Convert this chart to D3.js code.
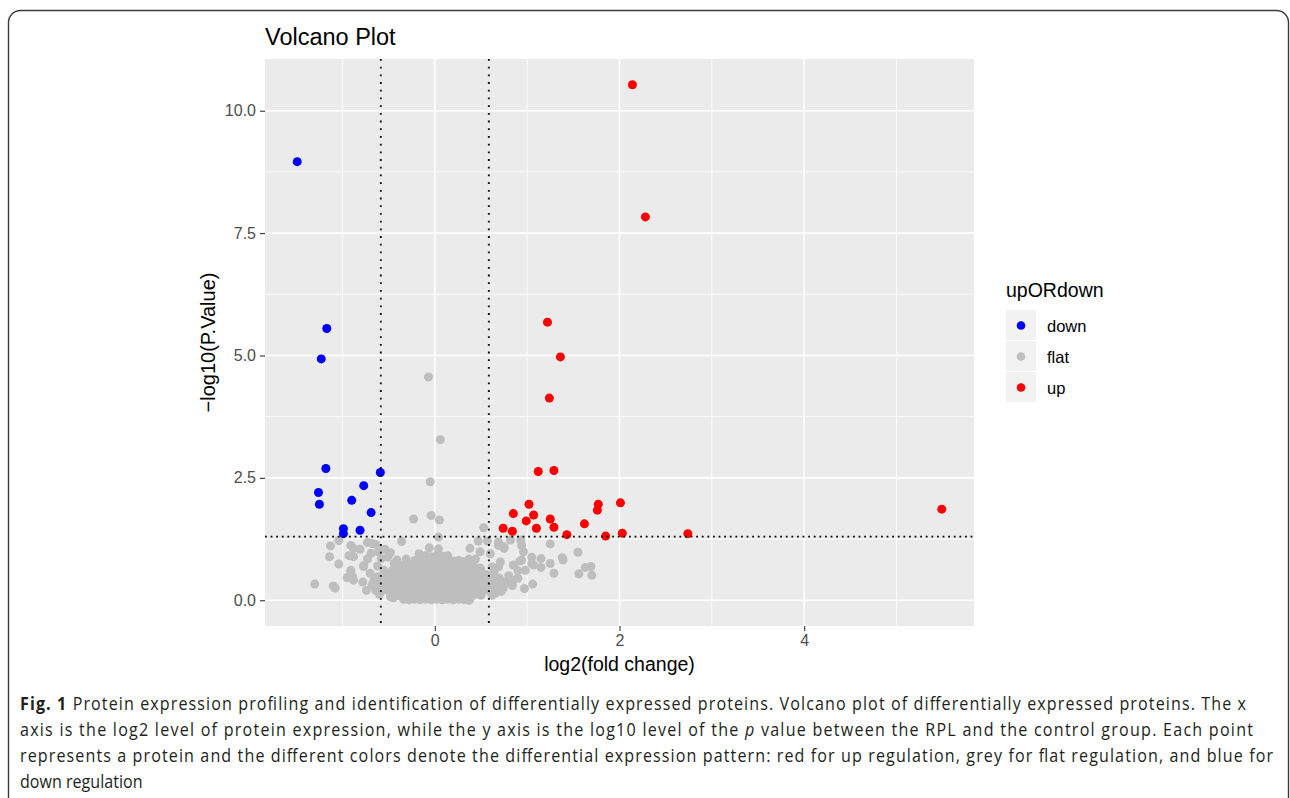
<!DOCTYPE html>
<html>
<head>
<meta charset="utf-8">
<script src="https://cdn.jsdelivr.net/npm/d3@7"></script>
<style>
  body { margin: 0; background: #fff; }
  svg { display: block; }
</style>
</head>
<body>
<div id="graph"></div>
<script>
// ---- data (log2 fold change, -log10 p) ----
const down = [
  [-1.49, 8.96], [-1.17, 5.55], [-1.23, 4.93], [-1.18, 2.69], [-1.26, 2.20],
  [-1.25, 1.96], [-0.90, 2.04], [-0.77, 2.34], [-0.59, 2.61], [-0.69, 1.79],
  [-0.99, 1.46], [-0.99, 1.36], [-0.81, 1.43]
];

const up = [
  [2.14, 10.53], [2.28, 7.83], [1.22, 5.68], [1.36, 4.97], [1.24, 4.13],
  [1.12, 2.63], [1.29, 2.65], [1.02, 1.96], [0.85, 1.77], [1.07, 1.74],
  [0.99, 1.62], [1.25, 1.66], [1.10, 1.47], [1.29, 1.49], [0.74, 1.47],
  [0.84, 1.41], [1.43, 1.34], [1.62, 1.56], [1.77, 1.96], [1.76, 1.84],
  [2.01, 1.99], [1.85, 1.31], [2.03, 1.37], [2.74, 1.36], [5.49, 1.86]
];

// scattered grey points
const flatOuter = [
  [-0.07, 4.56], [0.06, 3.28], [-0.05, 2.42], [-0.04, 1.73], [0.05, 1.64],
  [-0.23, 1.66], [0.04, 1.29], [0.53, 1.48], [-0.36, 1.20], [-1.04, 1.22],
  [-1.13, 1.11], [-1.14, 0.89], [-1.04, 0.74], [-1.30, 0.33], [-1.10, 0.29],
  [-1.08, 0.25], [-0.95, 0.46], [-0.89, 0.48], [-0.74, 0.20], [-0.45, 0.05],
  [0.37, 0.00], [-0.06, 1.07], [0.04, 1.05], [0.38, 1.06], [0.47, 1.21],
  [0.57, 1.21], [0.69, 1.19], [0.75, 1.06], [0.82, 1.23], [0.93, 1.23],
  [1.25, 1.15], [1.55, 0.98], [1.38, 0.87], [1.39, 0.82], [1.05, 0.88],
  [1.15, 0.85], [0.92, 0.80], [0.94, 0.82], [1.05, 0.75], [1.25, 0.75],
  [1.15, 0.67], [1.29, 0.55], [1.56, 0.54], [1.63, 0.67], [1.69, 0.69],
  [1.70, 0.51], [0.97, 0.24], [1.06, 0.33], [0.74, 0.24], [-0.31, 0.84],
  [-0.17, 0.95], [0.19, 0.73], [0.37, 0.84], [0.44, 0.84], [0.49, 0.66],
  [-0.54, 1.04], [-0.48, 0.97], [-0.41, 0.82], [-0.77, 0.69], [-0.91, 0.61],
  [-0.93, 0.91], [-0.88, 1.06], [-0.81, 1.04], [-0.73, 1.18], [-0.64, 1.14],
  [-0.73, 0.84], [-0.69, 0.96], [-0.61, 0.99], [0.49, 0.99], [0.71, 0.78],
  [0.62, 0.68], [-0.91, 1.12], [-0.88, 0.89], [-0.77, 0.71], [-0.68, 1.16],
  [-0.60, 1.06], [-0.91, 0.58], [-0.88, 0.41], [-0.78, 0.37], [-0.68, 0.31],
  [-0.62, 0.48], [-0.55, 0.61], [-0.51, 0.88], [-0.44, 0.75], [-0.48, 0.07],
  [-0.55, 0.24], [0.96, 0.99], [0.98, 0.61], [0.85, 0.41], [0.75, 0.37],
  [0.69, 0.68], [0.69, 1.12], [0.75, 1.09], [0.94, 1.12], [0.85, 0.72],
  [0.64, 0.55], [0.57, 0.41], [0.60, 0.95], [1.07, 0.72], [0.90, 0.60],
  [0.72, 0.30], [0.78, 0.35], [0.84, 0.30], [0.90, 0.45], [0.70, 0.45],
  [0.80, 0.50], [0.66, 0.15], [0.72, 0.18], [0.62, 0.10], [-0.66, 0.40],
  [-0.70, 0.55], [-0.62, 0.70], [-0.58, 0.85], [-0.64, 0.20], [-0.60, 0.12]
];

// dense core of the volcano
const flatCore = [
  [-0.34, 0.02], [-0.28, 0.01], [-0.22, 0.02], [-0.16, 0.01], [-0.10, 0.02], [-0.04, 0.01], [0.02, 0.02],
  [0.08, 0.01], [0.14, 0.02], [0.20, 0.01], [0.26, 0.02], [0.32, 0.01], [0.38, 0.02],
  [-0.46, 0.11], [-0.40, 0.09], [-0.34, 0.12], [-0.28, 0.10], [-0.22, 0.11], [-0.16, 0.09], [-0.10, 0.10],
  [-0.04, 0.12], [0.02, 0.10], [0.08, 0.11], [0.14, 0.09], [0.20, 0.12], [0.26, 0.10], [0.32, 0.11],
  [0.38, 0.09], [0.44, 0.12], [0.50, 0.10],
  [-0.56, 0.21], [-0.50, 0.19], [-0.44, 0.22], [-0.38, 0.20], [-0.32, 0.21], [-0.26, 0.19], [-0.20, 0.22],
  [-0.14, 0.20], [-0.08, 0.21], [-0.02, 0.19], [0.04, 0.22], [0.10, 0.20], [0.16, 0.21], [0.22, 0.19],
  [0.28, 0.22], [0.34, 0.20], [0.40, 0.21], [0.46, 0.19], [0.52, 0.22], [0.58, 0.20],
  [-0.60, 0.31], [-0.54, 0.29], [-0.48, 0.32], [-0.42, 0.30], [-0.36, 0.31], [-0.30, 0.29], [-0.24, 0.32],
  [-0.18, 0.30], [-0.12, 0.31], [-0.06, 0.29], [0.00, 0.32], [0.06, 0.30], [0.12, 0.31], [0.18, 0.29],
  [0.24, 0.32], [0.30, 0.30], [0.36, 0.31], [0.42, 0.29], [0.48, 0.32], [0.54, 0.30], [0.60, 0.31], [0.66, 0.29],
  [-0.58, 0.41], [-0.52, 0.39], [-0.46, 0.42], [-0.40, 0.40], [-0.34, 0.41], [-0.28, 0.39], [-0.22, 0.42],
  [-0.16, 0.40], [-0.10, 0.41], [-0.04, 0.39], [0.02, 0.42], [0.08, 0.40], [0.14, 0.41], [0.20, 0.39],
  [0.26, 0.42], [0.32, 0.40], [0.38, 0.41], [0.44, 0.39], [0.50, 0.42], [0.56, 0.40], [0.62, 0.41],
  [-0.52, 0.51], [-0.46, 0.49], [-0.40, 0.52], [-0.34, 0.50], [-0.28, 0.51], [-0.22, 0.49], [-0.16, 0.52],
  [-0.10, 0.50], [-0.04, 0.51], [0.02, 0.49], [0.08, 0.52], [0.14, 0.50], [0.20, 0.51], [0.26, 0.49],
  [0.32, 0.52], [0.38, 0.50], [0.44, 0.51], [0.50, 0.49], [0.56, 0.52],
  [-0.46, 0.61], [-0.40, 0.59], [-0.34, 0.62], [-0.28, 0.60], [-0.22, 0.61], [-0.16, 0.59], [-0.10, 0.62],
  [-0.04, 0.60], [0.02, 0.61], [0.08, 0.59], [0.14, 0.62], [0.20, 0.60], [0.26, 0.61], [0.32, 0.59],
  [0.38, 0.62], [0.44, 0.60], [0.50, 0.61],
  [-0.36, 0.71], [-0.30, 0.69], [-0.24, 0.72], [-0.18, 0.70], [-0.12, 0.71], [-0.06, 0.69], [0.00, 0.72],
  [0.06, 0.70], [0.12, 0.71], [0.18, 0.69], [0.24, 0.72], [0.30, 0.70], [0.36, 0.71], [0.42, 0.69],
  [-0.22, 0.81], [-0.16, 0.79], [-0.10, 0.82], [-0.04, 0.80], [0.02, 0.81], [0.08, 0.79], [0.14, 0.82],
  [0.20, 0.80], [0.26, 0.81], [0.30, 0.79],
  [-0.10, 0.91], [-0.04, 0.89], [0.02, 0.92], [0.08, 0.90], [0.14, 0.91]
];

const groups = ["down", "flat", "up"];
const groupColors = ["#0000FF", "#BEBEBE", "#FF0000"];

const xTicks = [0, 2, 4];
const xMinor = [-1, 1, 3, 5];
const yTicks = [0, 2.5, 5, 7.5, 10];
const yMinor = [1.25, 3.75, 6.25, 8.75];

const fcCut = [-0.585, 0.585];   // log2(1.5)
const pCut = 1.301;              // -log10(0.05)

const captionLines = [
  "Protein expression profiling and identification of differentially expressed proteins. Volcano plot of differentially expressed proteins. The x",
  "axis is the log2 level of protein expression, while the y axis is the log10 level of the ",
  "represents a protein and the different colors denote the differential expression pattern: red for up regulation, grey for flat regulation, and blue for",
  "down regulation"
];

// ---- layout ----
let width = 1290, height = 798;
let panel = {left: 265, right: 974, top: 59, bottom: 626};

let svg = d3.select("#graph").append("svg")
  .attr("width", width)
  .attr("height", height)
  .style("font-family", "'Liberation Sans', Arial, sans-serif");

// outer frame
svg.append("rect")
  .attr("x", 8.5).attr("y", 10.5)
  .attr("width", 1280).attr("height", 900)
  .attr("rx", 12)
  .attr("fill", "none")
  .attr("stroke", "#3a3a3a")
  .attr("stroke-width", 1.4);

// scales, 5% expansion like ggplot
let allPts = down.concat(up, flatOuter, flatCore);
let xExt = d3.extent(allPts, d => d[0]), yExt = d3.extent(allPts, d => d[1]);
let xPad = (xExt[1] - xExt[0]) * 0.05, yPad = (yExt[1] - yExt[0]) * 0.05;

let x = d3.scaleLinear().domain([xExt[0] - xPad, xExt[1] + xPad]).range([panel.left, panel.right]);
let y = d3.scaleLinear().domain([yExt[0] - yPad, yExt[1] + yPad]).range([panel.bottom, panel.top]);

// panel background
svg.append("rect")
  .attr("x", panel.left).attr("y", panel.top)
  .attr("width", panel.right - panel.left).attr("height", panel.bottom - panel.top)
  .attr("fill", "#EBEBEB");

// grid
let grid = svg.append("g").attr("stroke", "#fff");
grid.selectAll(".vminor").data(xMinor).enter().append("line")
  .attr("x1", d => x(d)).attr("x2", d => x(d))
  .attr("y1", panel.top).attr("y2", panel.bottom).attr("stroke-width", 0.8);
grid.selectAll(".hminor").data(yMinor).enter().append("line")
  .attr("y1", d => y(d)).attr("y2", d => y(d))
  .attr("x1", panel.left).attr("x2", panel.right).attr("stroke-width", 0.8);
grid.selectAll(".vmajor").data(xTicks).enter().append("line")
  .attr("x1", d => x(d)).attr("x2", d => x(d))
  .attr("y1", panel.top).attr("y2", panel.bottom).attr("stroke-width", 1.6);
grid.selectAll(".hmajor").data(yTicks).enter().append("line")
  .attr("y1", d => y(d)).attr("y2", d => y(d))
  .attr("x1", panel.left).attr("x2", panel.right).attr("stroke-width", 1.6);

// points
let pts = svg.append("g");
let r = 4.5;
pts.selectAll(".flat").data(flatCore.concat(flatOuter)).enter().append("circle")
  .attr("cx", d => x(d[0])).attr("cy", d => y(d[1])).attr("r", r)
  .attr("fill", groupColors[1]);
pts.selectAll(".down").data(down).enter().append("circle")
  .attr("cx", d => x(d[0])).attr("cy", d => y(d[1])).attr("r", r)
  .attr("fill", groupColors[0]);
pts.selectAll(".up").data(up).enter().append("circle")
  .attr("cx", d => x(d[0])).attr("cy", d => y(d[1])).attr("r", r)
  .attr("fill", groupColors[2]);

// cut-off lines (dotted)
svg.append("g").selectAll("line").data(fcCut).enter().append("line")
  .attr("x1", d => x(d)).attr("x2", d => x(d))
  .attr("y1", panel.top).attr("y2", panel.bottom)
  .attr("stroke", "#000").attr("stroke-width", 1.8)
  .attr("stroke-dasharray", "1.8 5.9");
svg.append("line")
  .attr("x1", panel.left).attr("x2", panel.right)
  .attr("y1", y(pCut)).attr("y2", y(pCut))
  .attr("stroke", "#000").attr("stroke-width", 1.8)
  .attr("stroke-dasharray", "1.8 3.8");

// axes
let xAxis = svg.append("g")
  .attr("transform", "translate(0," + panel.bottom + ")")
  .call(d3.axisBottom(x).tickValues(xTicks).tickFormat(d3.format("d")).tickSize(5).tickPadding(4));
let yAxis = svg.append("g")
  .attr("transform", "translate(" + panel.left + ",0)")
  .call(d3.axisLeft(y).tickValues(yTicks).tickFormat(d3.format(".1f")).tickSize(5).tickPadding(4));

[xAxis, yAxis].forEach(a => {
  a.select(".domain").remove();
  a.selectAll(".tick line").attr("stroke", "#333").attr("stroke-width", 1.1);
  a.selectAll(".tick text")
    .attr("fill", "#4D4D4D")
    .style("font-size", "16px")
    .style("font-family", "'Liberation Sans', Arial, sans-serif");
});

// titles
svg.append("text")
  .attr("x", panel.left).attr("y", 45)
  .style("font-size", "23.5px")
  .text("Volcano Plot");

svg.append("text")
  .attr("x", (panel.left + panel.right) / 2).attr("y", 671)
  .attr("text-anchor", "middle")
  .style("font-size", "19.5px")
  .text("log2(fold change)");

svg.append("text")
  .attr("transform", "translate(215," + (panel.top + panel.bottom) / 2 + ") rotate(-90)")
  .attr("text-anchor", "middle")
  .style("font-size", "20px")
  .text("\u2212log10(P.Value)");

// legend
let legend = svg.append("g").attr("transform", "translate(1006,0)");
legend.append("text")
  .attr("x", 0).attr("y", 297)
  .style("font-size", "19.5px")
  .text("upORdown");

let keys = legend.selectAll(".key").data(groups).enter().append("g")
  .attr("transform", (d, i) => "translate(0," + (310 + i * 31) + ")");
keys.append("rect")
  .attr("width", 30).attr("height", 30)
  .attr("fill", "#F2F2F2");
keys.append("circle")
  .attr("cx", 15).attr("cy", 15.5).attr("r", 4.3)
  .attr("fill", (d, i) => groupColors[i]);
keys.append("text")
  .attr("x", 41).attr("y", 21.5)
  .style("font-size", "16.5px")
  .text(d => d);

// caption (narrow face: squeeze horizontally)
let sx = 0.92;
let cap = svg.append("g")
  .attr("transform", "translate(20,0) scale(" + sx + ",1)")
  .style("font-family", "'Open Sans', 'Noto Sans', sans-serif")
  .style("font-size", "17.5px")
  .attr("fill", "#231F20");

let l1 = cap.append("text").attr("x", 0).attr("y", 710)
  .attr("textLength", 1226 / sx).attr("lengthAdjust", "spacing");
l1.append("tspan").attr("font-weight", "bold").text("Fig. 1");
l1.append("tspan").text(" " + captionLines[0]);

let l2 = cap.append("text").attr("x", 0).attr("y", 736)
  .attr("textLength", 1233 / sx).attr("lengthAdjust", "spacing");
l2.append("tspan").text(captionLines[1]);
l2.append("tspan").attr("font-style", "italic").text("p");
l2.append("tspan").text(" value between the RPL and the control group. Each point");

cap.append("text").attr("x", 0).attr("y", 762)
  .attr("textLength", 1253 / sx).attr("lengthAdjust", "spacing")
  .text(captionLines[2]);
cap.append("text").attr("x", 0).attr("y", 788).text(captionLines[3]);
</script>
</body>
</html>
